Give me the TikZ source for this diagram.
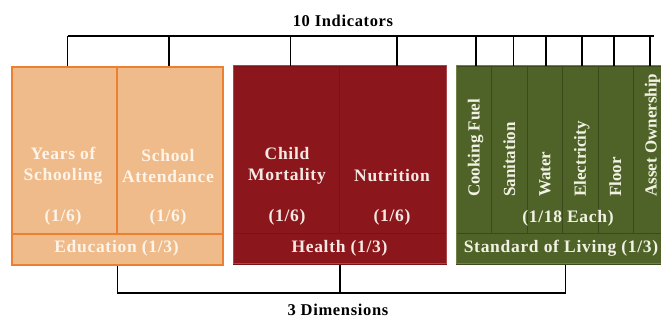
\documentclass[tikz,border=0pt]{standalone}
\usepackage{fontspec}
\setmainfont{Liberation Serif}
\newfontfamily\widefont[LetterSpace=4]{Liberation Serif}
\definecolor{orfill}{HTML}{EFBB8B}
\definecolor{ordraw}{HTML}{EC7F30}
\definecolor{ortext}{HTML}{FFF4E8}
\definecolor{rdfill}{HTML}{8B171D}
\definecolor{rddraw}{HTML}{A8484C}
\definecolor{rddiv}{HTML}{7A1217}
\definecolor{rdtext}{HTML}{F6E8E2}
\definecolor{grfill}{HTML}{4F6328}
\definecolor{grdraw}{HTML}{6F8249}
\definecolor{grdiv}{HTML}{3A4A1B}
\definecolor{grtext}{HTML}{F2F2E4}
\begin{document}
\begin{tikzpicture}[x=1pt,y=-1pt,
  lbl/.style={font=\widefont\fontsize{17.5}{21}\selectfont\bfseries, align=center, inner sep=0pt},
  rlbl/.style={font=\fontsize{17}{21}\selectfont\bfseries, inner sep=0pt},
  hdr/.style={font=\widefont\fontsize{16.5}{19}\selectfont\bfseries, text=black, inner sep=0pt},
  obox/.style={draw=ordraw, fill=orfill, line width=2pt, inner sep=0pt, anchor=north west},
  rbox/.style={draw=rddiv, fill=rdfill, line width=0.8pt, inner sep=0pt, anchor=north west},
  gbox/.style={draw=grdiv, fill=grfill, line width=0.8pt, inner sep=0pt, anchor=north west},
  conn/.style={draw=black, line width=1.8pt}]
\useasboundingbox (0,0) rectangle (661,320);
% Education
\node[obox, minimum width=105pt, minimum height=167pt] (ys) at (11,66) {};
\node[obox, minimum width=106pt, minimum height=167pt] (sa) at (116,66) {};
\node[obox, minimum width=211pt, minimum height=31pt] (edu) at (11,233) {};
% Health
\node[rbox, minimum width=106pt, minimum height=167pt] (cm) at (233,66) {};
\node[rbox, minimum width=107pt, minimum height=167pt] (nu) at (339,66) {};
\node[rbox, minimum width=213pt, minimum height=31pt] (hl) at (233,233) {};
\draw[rddraw, line width=1pt] (233,66) rectangle (446,264);
% Standard of living
\foreach \i/\nm in {0/c1,1/c2,2/c3,3/c4,4/c5,5/c6}{
  \node[gbox, minimum width=35.4pt, minimum height=167pt] (\nm) at (456+35.4*\i,66) {};
}
\node[gbox, minimum width=212pt, minimum height=31pt] (sl) at (456,233) {};
\draw[grdraw, line width=1pt] (456,66) -- (670,66) (456,66) -- (456,264) -- (670,264);
% texts
\node[lbl, text=ortext] at (63,166) {Years of\\Schooling};
\node[lbl, text=ortext] at (168,166) {School\\Attendance};
\node[lbl, text=ortext] at (63,217) {(1/6)};
\node[lbl, text=ortext] at (168,217) {(1/6)};
\node[lbl, text=ortext] at (116.5,248) {Education (1/3)};
\node[lbl, text=rdtext] at (287,166) {Child\\Mortality};
\node[lbl, text=rdtext] at (392,176) {Nutrition};
\node[lbl, text=rdtext] at (287,217) {(1/6)};
\node[lbl, text=rdtext] at (392,217) {(1/6)};
\node[lbl, text=rdtext] at (339.5,248) {Health (1/3)};
\foreach \nm/\t in {c1/Cooking Fuel,c2/Sanitation,c3/Water,c4/Electricity,c5/Floor,c6/Asset Ownership}{
  \node[rlbl, text=grtext, rotate=90, anchor=base west] at ([xshift=5.5pt]\nm.center |- 0,197) {\t};
}
\node[lbl, text=grtext] at (568,218) {(1/18 Each)};
\node[lbl, text=grtext] at (561,248) {Standard of Living (1/3)};
% headers
\node[hdr] (ind) at (343,21) {10 Indicators};
\node[hdr] (dim) at (338,310) {3 Dimensions};
% top bracket
\coordinate (tl) at (0,36);
\draw[conn] ([xshift=3pt]ys.north |- tl) -- ([xshift=3pt]c6.north |- tl);
\foreach \nm/\dx in {ys/3,sa/-1,cm/4,nu/4,c1/2,c2/4,c3/1,c4/2,c5/-2,c6/-1}{
  \draw[conn] ([xshift=\dx pt]\nm.north |- tl) -- ([xshift=\dx pt]\nm.north);
}
% bottom bracket
\coordinate (bl) at (0,293);
\draw[conn] (edu.south) -- (edu.south |- bl) -- ([xshift=3pt]sl.south |- bl) -- ([xshift=3pt]sl.south);
\draw[conn] (hl.south) -- (hl.south |- bl);
\end{tikzpicture}
\end{document}
